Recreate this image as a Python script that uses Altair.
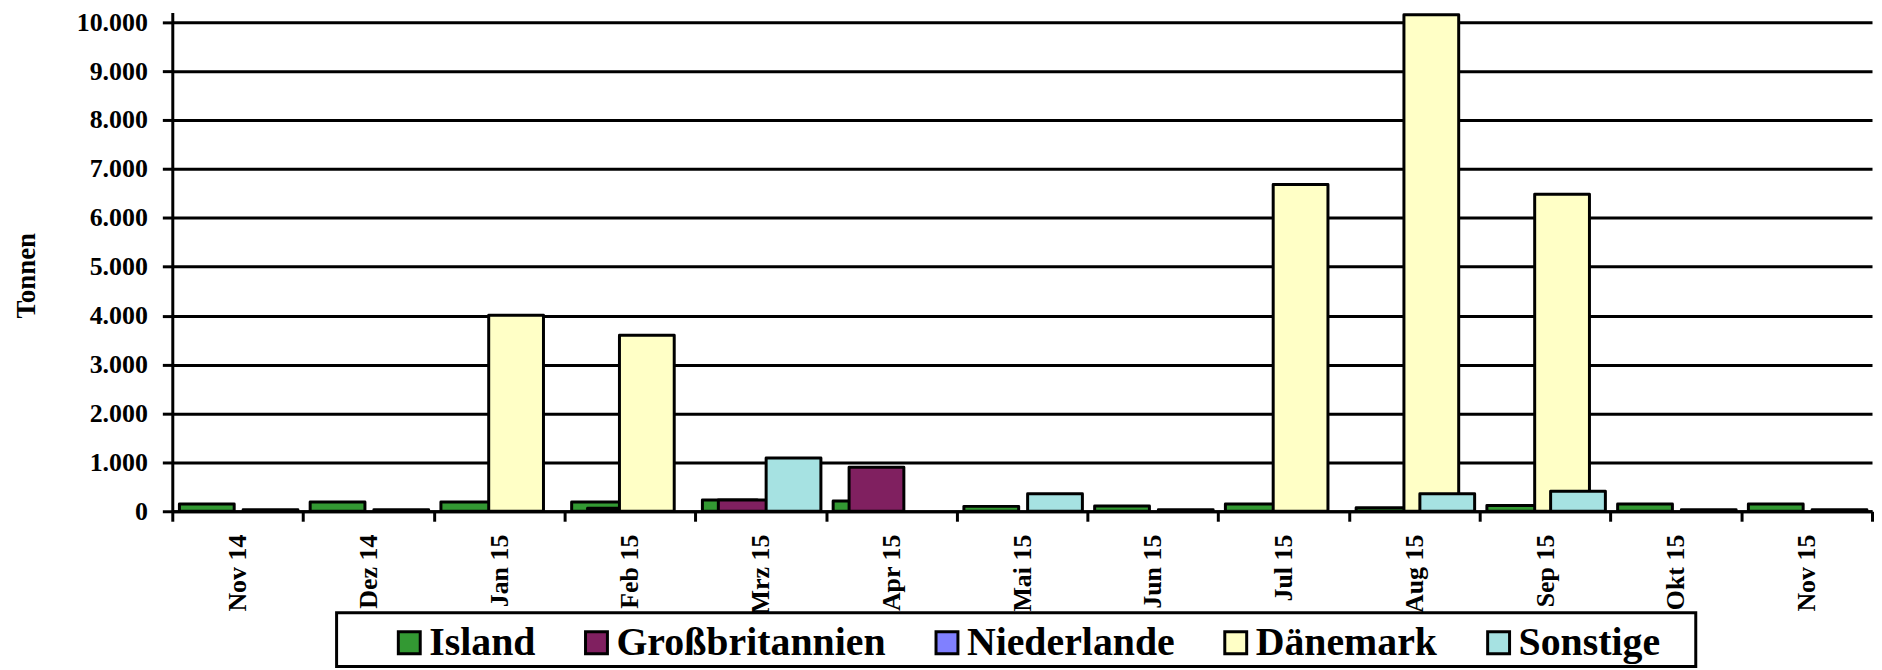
import altair as alt
import pandas as pd

months = ["Nov 14", "Dez 14", "Jan 15", "Feb 15", "Mrz 15", "Apr 15", "Mai 15",
          "Jun 15", "Jul 15", "Aug 15", "Sep 15", "Okt 15", "Nov 15"]
series = ["Island", "Großbritannien", "Niederlande", "Dänemark", "Sonstige"]
colors = ["#339933", "#802060", "#8080ff", "#ffffc6", "#a6e2e2"]

island = [150, 190, 190, 190, 230, 210, 100, 110, 150, 70, 120, 150, 150]
gb = [0, 0, 0, 60, 230, 900, 0, 0, 0, 0, 0, 0, 0]
nl = [0, 0, 0, 0, 0, 0, 0, 0, 0, 0, 0, 0, 0]
dk = [0, 0, 4010, 3600, 0, 0, 0, 0, 6680, 10150, 6480, 0, 0]
sonst = [30, 30, 0, 0, 1090, 0, 360, 30, 0, 360, 410, 30, 30]
y_ticks = [0, 1000, 2000, 3000, 4000, 5000, 6000, 7000, 8000, 9000, 10000]

rows = []
for name, vals in zip(series, [island, gb, nl, dk, sonst]):
    for m, v in zip(months, vals):
        rows.append({"Monat": m, "Land": name, "Tonnen": v})
df = pd.DataFrame(rows)

W, H = 1707, 501
FONT = "Liberation Serif"
cat_w = W / len(months)
step = 16
off0 = cat_w / 2 - 2.5 * step + 1

bars = alt.Chart(df).transform_filter("datum.Tonnen > 0").mark_bar(
    width=55, stroke="black", strokeWidth=3, strokeJoin="round", opacity=1
).encode(
    x=alt.X("Monat:N", sort=months,
            scale=alt.Scale(domain=months, paddingInner=0, paddingOuter=0),
            axis=alt.Axis(title=None, labelAngle=-90, labelFont=FONT, labelFontWeight="bold",
                          labelFontSize=26, labelColor="black", labelPadding=13,
                          tickBand="extent", tickSize=10, tickWidth=3, tickColor="black",
                          domainColor="black", domainWidth=3, grid=False)),
    xOffset=alt.XOffset("Land:N", sort=series,
                        scale=alt.Scale(domain=series, range=[off0, off0 + 5 * step])),
    y=alt.Y("Tonnen:Q", scale=alt.Scale(domain=[0, 10200], nice=False),
            axis=alt.Axis(title="Tonnen", values=y_ticks,
                          labelExpr="replace(format(datum.value, ','), ',', '.')",
                          labelFont=FONT, labelFontWeight="bold", labelFontSize=26,
                          labelColor="black", labelPadding=15,
                          tickSize=10, tickWidth=3, tickColor="black",
                          domainColor="black", domainWidth=3,
                          grid=True, gridColor="black", gridWidth=3, gridOpacity=1,
                          titleFont=FONT, titleFontSize=27, titleFontWeight="bold",
                          titleColor="black", titleAngle=-90, titleX=-138, titleY=264,
                          titleAlign="center", titleBaseline="alphabetic")),
    color=alt.Color("Land:N", sort=series,
                    scale=alt.Scale(domain=series, range=colors),
                    legend=alt.Legend(title=None, orient="none", legendX=218, legendY=613,
                                      direction="horizontal", symbolType="square",
                                      symbolSize=484, symbolStrokeWidth=3,
                                      symbolStrokeColor="black", symbolOpacity=1,
                                      labelFont=FONT, labelFontWeight="bold",
                                      labelFontSize=40, labelColor="black",
                                      labelOffset=0, columnPadding=41, padding=0,
                                      labelLimit=0)),
)

box = alt.Chart(pd.DataFrame({"k": [0]})).mark_rect(
    filled=False, stroke="black", strokeWidth=3
).encode(
    x=alt.value(165), x2=alt.value(1530), y=alt.value(603), y2=alt.value(657)
)

chart = alt.layer(bars, box).properties(
    width=W, height=H,
    autosize=alt.AutoSizeParams(type="none"),
    padding={"left": 165, "right": 2, "top": 3, "bottom": 160},
    background="white",
).configure(font=FONT).configure_legend(
    labelFont=FONT, labelFontWeight="bold", labelFontSize=40
).configure_view(stroke=None)

chart.save("out.html", embed_options={"renderer": "svg", "actions": False})
